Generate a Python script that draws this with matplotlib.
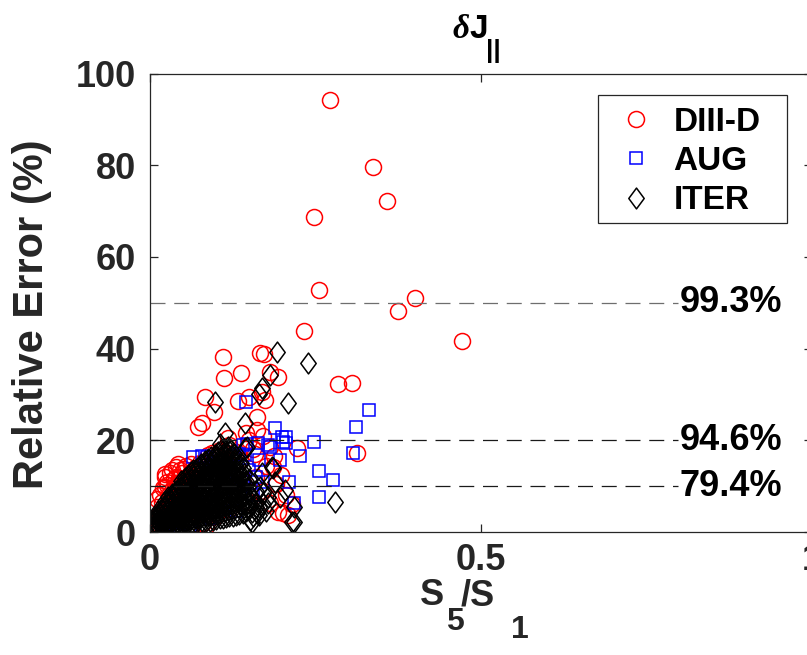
import matplotlib
matplotlib.use("Agg")
import matplotlib.pyplot as plt
from matplotlib.path import Path
from matplotlib.patches import Rectangle

plt.rcParams['font.family'] = ['Liberation Sans', 'DejaVu Sans']
plt.rcParams['font.weight'] = 'bold'
plt.rcParams['mathtext.fontset'] = 'custom'
plt.rcParams['mathtext.bf'] = 'Liberation Sans:bold'
plt.rcParams['mathtext.rm'] = 'Liberation Sans:bold'
plt.rcParams['mathtext.it'] = 'Liberation Serif:italic'

# ---------------- data ----------------
diiid_x = [0.272, 0.337, 0.358, 0.248, 0.256, 0.400, 0.375, 0.471, 0.233, 0.284, 0.305, 0.313,
           0.110, 0.166, 0.172, 0.112, 0.138, 0.181, 0.083, 0.133, 0.169, 0.174, 0.161, 0.096,
           0.078, 0.161, 0.149, 0.193, 0.181, 0.222, 0.186, 0.201, 0.181, 0.136, 0.193, 0.208,
           0.170, 0.150, 0.120, 0.130, 0.155, 0.073,
           0.040, 0.030, 0.050, 0.023, 0.010, 0.005, 0.076, 0.023, 0.048, 0.018, 0.008, 0.093,
           0.035, 0.060, 0.015, 0.030, 0.065, 0.085, 0.100, 0.115, 0.125, 0.140, 0.160, 0.170,
           0.150, 0.120, 0.100, 0.080, 0.060, 0.040, 0.020, 0.175, 0.190, 0.205, 0.215, 0.060,
           0.085, 0.045, 0.055, 0.070, 0.012, 0.028,
           0.015, 0.020, 0.025, 0.033, 0.038, 0.043, 0.052, 0.058, 0.027, 0.036, 0.046, 0.017,
           0.032, 0.042, 0.055, 0.068, 0.088, 0.105, 0.118, 0.145, 0.158, 0.188, 0.198, 0.003,
           0.010, 0.022, 0.034, 0.044, 0.062, 0.008, 0.026, 0.039]
diiid_y = [94.2, 79.6, 72.3, 68.6, 52.8, 51.0, 48.2, 41.7, 43.8, 32.2, 32.4, 17.2,
           38.1, 39.0, 38.8, 33.5, 34.7, 35.0, 29.5, 28.6, 30.6, 28.8, 25.1, 26.2,
           23.7, 22.2, 29.5, 33.9, 18.6, 18.3, 14.2, 4.1, 6.3, 15.7, 4.4, 3.7,
           21.0, 20.0, 19.0, 17.5, 18.0, 23.0,
           14.2, 12.8, 11.3, 9.9, 5.5, 0.4, 15.0, 12.1, 12.8, 6.6, 0.8, 17.2,
           8.5, 10.5, 3.5, 6.0, 13.0, 15.5, 16.5, 16.0, 12.5, 11.0, 12.0, 9.0,
           6.5, 5.0, 3.5, 2.0, 1.0, 0.6, 0.3, 14.5, 10.5, 8.0, 6.0, 0.8,
           1.2, 13.5, 9.0, 11.8, 2.5, 8.0,
           8.0, 9.5, 11.0, 13.5, 10.0, 14.8, 13.8, 12.2, 7.0, 11.5, 10.8, 4.5,
           4.0, 7.5, 14.5, 14.0, 16.8, 17.8, 20.5, 21.5, 17.0, 16.5, 12.5, 2.0,
           7.2, 12.6, 9.6, 11.8, 14.8, 3.0, 10.2, 12.0]

aug_x = [0.331, 0.311, 0.248, 0.306, 0.255, 0.277, 0.255, 0.227, 0.218,
         0.145, 0.189, 0.199, 0.206, 0.201, 0.196, 0.210, 0.141, 0.146, 0.164, 0.181,
         0.065, 0.078, 0.086, 0.179, 0.143, 0.163, 0.205,
         0.100, 0.120, 0.080, 0.060, 0.140, 0.160, 0.040, 0.030, 0.060, 0.110, 0.130,
         0.090, 0.150, 0.170, 0.020, 0.050, 0.120, 0.070, 0.095, 0.135, 0.155]
aug_y = [26.6, 23.0, 19.7, 17.2, 13.2, 11.3, 7.7, 16.6, 6.3,
         28.3, 22.6, 20.8, 20.8, 19.7, 15.7, 10.8, 19.0, 19.3, 15.7, 18.6,
         16.4, 16.6, 16.4, 19.0, 16.8, 19.5, 19.5,
         12.0, 14.0, 9.0, 6.0, 10.0, 12.0, 3.0, 1.5, 0.2, 7.0, 4.5,
         3.0, 13.5, 11.0, 0.5, 2.0, 10.5, 11.0, 15.0, 17.0, 8.0]

# ITER: isolated points
iter_x = [0.192, 0.238, 0.181, 0.169, 0.098, 0.209, 0.144, 0.113, 0.106, 0.144,
          0.186, 0.196, 0.279, 0.214, 0.154, 0.161, 0.179, 0.166, 0.065, 0.164,
          0.123, 0.146, 0.184, 0.217, 0.154, 0.217, 0.179, 0.164, 0.151, 0.204,
          0.169, 0.189]
iter_y = [39.3, 36.8, 34.2, 31.3, 28.4, 28.1, 23.7, 21.5, 19.3, 18.3,
          13.9, 7.7, 6.6, 2.2, 2.2, 4.1, 6.3, 9.9, 13.5, 30.2,
          17.9, 18.6, 14.2, 5.5, 4.4, 2.2, 7.7, 5.5, 2.6, 9.2,
          12.8, 11.0]
# ITER: dense cluster near the origin, read column by column
iter_cluster_x = [0.005, 0.010, 0.015, 0.020, 0.025, 0.030, 0.035, 0.040, 0.045, 0.050,
                  0.055, 0.060, 0.065, 0.070, 0.075, 0.080, 0.085, 0.090, 0.095, 0.100,
                  0.105, 0.110, 0.115, 0.120, 0.125, 0.130, 0.135, 0.140, 0.145, 0.150,
                  0.160, 0.170,
                  0.0075, 0.0125, 0.0175, 0.0225, 0.0275, 0.0325, 0.0375, 0.0425, 0.0475,
                  0.0525, 0.0575, 0.0625, 0.0675, 0.0725, 0.0775, 0.0825, 0.0875, 0.0925,
                  0.0975, 0.1025, 0.1075, 0.1125, 0.1175, 0.1225, 0.1275, 0.1325, 0.1375,
                  0.1425, 0.1475, 0.155, 0.165, 0.175]
iter_cluster_y = [[0.3, 1.0, 2.0],
                  [0.5, 1.5, 2.5, 3.5],
                  [0.5, 1.5, 2.8, 4.0],
                  [0.6, 1.8, 3.0, 4.5, 5.5],
                  [0.8, 2.0, 3.5, 5.0, 6.5],
                  [1.0, 2.4, 3.8, 5.3, 7.0],
                  [1.0, 2.6, 4.2, 5.8, 7.5],
                  [1.2, 2.8, 4.5, 6.2, 8.0, 9.0],
                  [1.3, 3.0, 4.8, 6.6, 8.4, 9.8],
                  [1.5, 3.2, 5.0, 7.0, 9.0, 10.5],
                  [1.5, 3.4, 5.4, 7.4, 9.4, 11.0],
                  [1.7, 3.6, 5.6, 7.8, 9.8, 11.6],
                  [1.8, 3.8, 6.0, 8.2, 10.4, 12.2],
                  [2.0, 4.0, 6.2, 8.5, 10.8, 12.8],
                  [2.0, 4.2, 6.5, 8.8, 11.2, 13.4],
                  [2.2, 4.4, 6.8, 9.2, 11.6, 14.0],
                  [2.3, 4.6, 7.0, 9.6, 12.0, 14.6],
                  [2.5, 4.8, 7.3, 10.0, 12.5, 15.0],
                  [2.6, 5.0, 7.6, 10.3, 13.0, 15.5],
                  [2.8, 5.2, 8.0, 10.8, 13.4, 16.0],
                  [3.0, 5.5, 8.3, 11.0, 13.8, 16.4],
                  [3.0, 5.8, 8.6, 11.4, 14.2, 16.8],
                  [3.2, 6.0, 9.0, 11.8, 14.6, 17.2],
                  [3.4, 6.3, 9.3, 12.2, 15.0, 17.6],
                  [3.5, 6.6, 9.6, 12.6, 15.4],
                  [3.8, 7.0, 10.0, 13.0, 15.8],
                  [4.0, 7.3, 10.4, 13.4],
                  [4.2, 7.6, 10.8, 14.0],
                  [4.5, 8.0, 11.2],
                  [5.0, 8.4, 11.6],
                  [5.5, 9.0],
                  [6.0, 8.5],
                  [0.8, 2.0, 3.2],
                  [1.0, 2.2, 3.4, 4.6],
                  [1.2, 2.4, 3.6, 5.0],
                  [1.2, 2.6, 4.0, 5.6, 6.8],
                  [1.5, 3.0, 4.4, 6.0, 7.6],
                  [1.6, 3.2, 4.8, 6.4, 8.2],
                  [1.8, 3.5, 5.2, 7.0, 8.8],
                  [2.0, 3.8, 5.6, 7.4, 9.4],
                  [2.2, 4.0, 6.0, 7.8, 9.8, 11.2],
                  [2.4, 4.2, 6.2, 8.2, 10.2, 11.8],
                  [2.6, 4.5, 6.6, 8.6, 10.6, 12.4],
                  [2.8, 4.8, 6.9, 9.0, 11.0, 13.0],
                  [3.0, 5.0, 7.2, 9.4, 11.6, 13.6],
                  [3.1, 5.3, 7.5, 9.8, 12.0, 14.2],
                  [3.3, 5.5, 7.8, 10.2, 12.6, 14.8],
                  [3.4, 5.8, 8.2, 10.6, 13.0, 15.4],
                  [3.6, 6.0, 8.5, 11.0, 13.5, 15.9],
                  [3.8, 6.2, 8.8, 11.4, 14.0, 16.4],
                  [4.0, 6.5, 9.2, 11.8, 14.5, 16.9],
                  [4.2, 6.8, 9.5, 12.2, 14.9, 17.4],
                  [4.4, 7.1, 9.8, 12.6, 15.3, 17.8],
                  [4.6, 7.4, 10.2, 13.0, 15.8, 18.2],
                  [4.8, 7.7, 10.6, 13.4, 16.2, 18.5],
                  [5.0, 8.0, 11.0, 13.8, 16.6],
                  [5.2, 8.3, 11.4, 14.2, 17.0],
                  [5.5, 8.6, 11.8, 14.6],
                  [5.8, 9.0, 12.2, 15.0],
                  [6.0, 9.4, 12.6],
                  [6.4, 9.8],
                  [3.5, 7.0],
                  [3.8, 7.5],
                  [4.5]]

legend_labels = ['DIII-D', 'AUG', 'ITER']
thresholds = [50, 20, 10]
threshold_labels = ['99.3%', '94.6%', '79.4%']
threshold_colors = ['#6e6e6e', '#1a1a1a', '#1a1a1a']
x_ticks = [0, 0.5, 1]
x_ticklabels = ['0', '0.5', '1']
y_ticks = [0, 20, 40, 60, 80, 100]

# combine ITER points
iter_all_x = list(iter_x)
iter_all_y = list(iter_y)
for cx, cys in zip(iter_cluster_x, iter_cluster_y):
    for cy in cys:
        iter_all_x.append(cx)
        iter_all_y.append(cy)

# ---------------- figure ----------------
W, H = 807, 655
fig = plt.figure(figsize=(W / 100, H / 100), dpi=100)
ax = fig.add_axes([150 / W, 123 / H, 662 / W, 458.5 / H])


def px(x, y):
    return x / W, 1 - y / H


diamond = Path([(0, 1), (0.74, 0), (0, -1), (-0.74, 0), (0, 1)],
               [Path.MOVETO, Path.LINETO, Path.LINETO, Path.LINETO, Path.CLOSEPOLY])

ax.plot(diiid_x, diiid_y, linestyle='none', marker='o', ms=11.5, mfc='none',
        mec=(1, 0, 0), mew=1.1, label=legend_labels[0])
ax.plot(aug_x, aug_y, linestyle='none', marker='s', ms=8.6, mfc='none',
        mec=(0, 0, 1), mew=1.1, label=legend_labels[1])
ax.plot(iter_all_x, iter_all_y, linestyle='none', marker=diamond, ms=15, mfc='none',
        mec='k', mew=1.1, label=legend_labels[2])

for thr, lab, col in zip(thresholds, threshold_labels, threshold_colors):
    ax.plot([0, 0.797], [thr, thr], linestyle=(0, (12, 7)), color=col, lw=0.9)
    ax.text(0.80, thr, lab, ha='left', va='center', fontsize=26, fontweight='bold',
            color='k', clip_on=False)

ax.set_xlim(0, 1)
ax.set_ylim(0, 100)
ax.set_xticks(x_ticks)
ax.set_xticklabels(x_ticklabels)
ax.set_yticks(y_ticks)
ax.tick_params(direction='in', length=6, width=0.9, top=True, right=True,
               labelsize=26, colors='#262626')
ax.tick_params(axis='y', pad=10)
ax.tick_params(axis='x', pad=8)
for lbl in ax.get_xticklabels() + ax.get_yticklabels():
    lbl.set_fontweight('bold')
for sp in ax.spines.values():
    sp.set_linewidth(0.9)
    sp.set_color('#262626')

ax.set_ylabel('Relative Error (%)', fontsize=30, fontweight='bold', color='#262626')
ax.yaxis.set_label_coords(-0.148, 0.475)

# x label  S_5/S _1  (pieces placed as in the reference)
lab_col = '#262626'
fig.text(*px(420, 605), 'S', fontsize=26, fontweight='bold', color=lab_col, va='baseline', ha='left')
fig.text(*px(446, 630), '5', fontsize=23, fontweight='bold', color=lab_col, va='baseline', ha='left')
fig.text(*px(461, 605), '/S', fontsize=26, fontweight='bold', color=lab_col, va='baseline', ha='left')
fig.text(*px(511, 638), '1', fontsize=23, fontweight='bold', color=lab_col, va='baseline', ha='left')

# title  delta J_||
fig.text(*px(487, 38), r'$\delta$J', fontsize=24, fontweight='bold', color='k',
         va='baseline', ha='right')
fig.text(*px(486, 39), '||', fontsize=19, fontweight='bold', color='k',
         va='top', ha='left')

leg = ax.legend(loc='upper left', bbox_to_anchor=(598 / W, (H - 95) / H),
                bbox_transform=fig.transFigure, frameon=False,
                handlelength=1.6, handletextpad=0.32, labelspacing=0.25,
                borderpad=0.35, borderaxespad=0,
                prop={'weight': 'bold', 'size': 24})
frame = Rectangle((598 / W, (H - 223) / H), (787 - 598) / W, (223 - 95) / H,
                  transform=fig.transFigure, fill=True, facecolor='white',
                  edgecolor='#262626', linewidth=0.9, zorder=4)
ax.add_artist(frame)
frame.set_clip_on(False)
leg.set_zorder(5)

fig.savefig('out.png', dpi=100)
